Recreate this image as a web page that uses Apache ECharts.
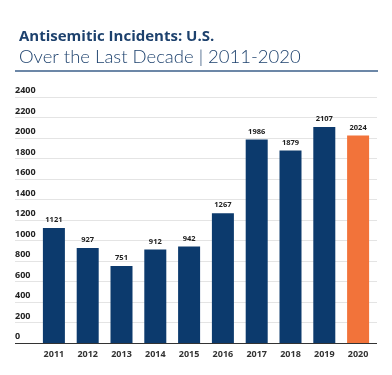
<!DOCTYPE html>
<html>
<head>
<meta charset="utf-8">
<script src="https://cdn.jsdelivr.net/npm/echarts@6/dist/echarts.min.js"></script>
<style>
  html, body { margin: 0; padding: 0; background: #ffffff; }
  #chart { width: 392px; height: 375px; }
</style>
</head>
<body>
<div id="chart"></div>
<script>
// data
var years = ["2011", "2012", "2013", "2014", "2015", "2016", "2017", "2018", "2019", "2020"];
var incidents = [1121, 927, 751, 912, 942, 1267, 1986, 1879, 2107, 2024];
var yTicks = [0, 200, 400, 600, 800, 1000, 1200, 1400, 1600, 1800, 2000, 2200, 2400];

var navy = "#0c3a6d";
var orange = "#f2733a";
var fontFam = "'Open Sans', 'Noto Sans', sans-serif";

var myChart = echarts.init(document.getElementById("chart"));

var barData = incidents.map(function (v, i) {
  return {
    value: v,
    itemStyle: { color: i === incidents.length - 1 ? orange : navy }
  };
});

myChart.setOption({
  animation: false,
  title: [
    {
      text: "Antisemitic Incidents: U.S.",
      left: 14,
      top: 24,
      textStyle: { color: "#1d416d", fontSize: 15, fontWeight: "bold", fontFamily: fontFam }
    },
    {
      text: "Over the Last Decade | 2011-2020",
      left: 14,
      top: 43,
      textStyle: { color: "#1d416d", fontSize: 18.5, fontWeight: 300, fontFamily: "Lato, 'Open Sans', sans-serif" }
    }
  ],
  graphic: [
    {
      type: "line",
      shape: { x1: 15, y1: 71, x2: 378, y2: 71 },
      style: { stroke: "#3b5f8a", lineWidth: 1.5 }
    }
  ],
  grid: [
    // background grid: gridlines + y labels, full width
    { left: 15, right: 15, top: 97, bottom: 32 },
    // bars
    { left: 37, right: 17, top: 97, bottom: 32 }
  ],
  xAxis: [
    {
      gridIndex: 0,
      type: "value",
      min: 0,
      max: 1,
      axisLabel: { show: false },
      axisTick: { show: false },
      splitLine: { show: false },
      axisLine: { show: false }
    },
    {
      gridIndex: 1,
      type: "category",
      data: years,
      axisTick: { show: false },
      axisLine: { show: false },
      axisLabel: {
        margin: 7,
        color: "#333333",
        fontSize: 9,
        fontWeight: "bold",
        fontFamily: fontFam
      }
    }
  ],
  yAxis: [
    {
      gridIndex: 0,
      type: "value",
      min: yTicks[0],
      max: yTicks[yTicks.length - 1],
      interval: 200,
      axisLine: { show: false },
      axisTick: { show: false },
      axisLabel: {
        inside: true,
        margin: 0,
        align: "left",
        verticalAlign: "bottom",
        padding: [0, 0, 2, 0],
        color: "#222222",
        fontSize: 9,
        fontWeight: "bold",
        fontFamily: fontFam,
        formatter: function (v) { return String(v); }
      },
      splitLine: {
        lineStyle: { color: "#e4e4e4", width: 1 }
      }
    },
    {
      gridIndex: 1,
      type: "value",
      min: yTicks[0],
      max: yTicks[yTicks.length - 1],
      interval: 200,
      show: false,
      splitLine: { show: false }
    }
  ],
  series: [
    {
      type: "bar",
      xAxisIndex: 1,
      yAxisIndex: 1,
      data: barData,
      barWidth: 22,
      label: {
        show: true,
        position: "top",
        distance: 4,
        color: "#222222",
        fontSize: 7.5,
        fontWeight: "bold",
        fontFamily: fontFam
      }
    },
    {
      // baseline across the full width
      type: "line",
      xAxisIndex: 0,
      yAxisIndex: 0,
      data: [],
      markLine: {
        silent: true,
        symbol: "none",
        label: { show: false },
        lineStyle: { color: "#333333", width: 1, type: "solid" },
        data: [{ yAxis: 0 }]
      }
    }
  ]
});
</script>
</body>
</html>
